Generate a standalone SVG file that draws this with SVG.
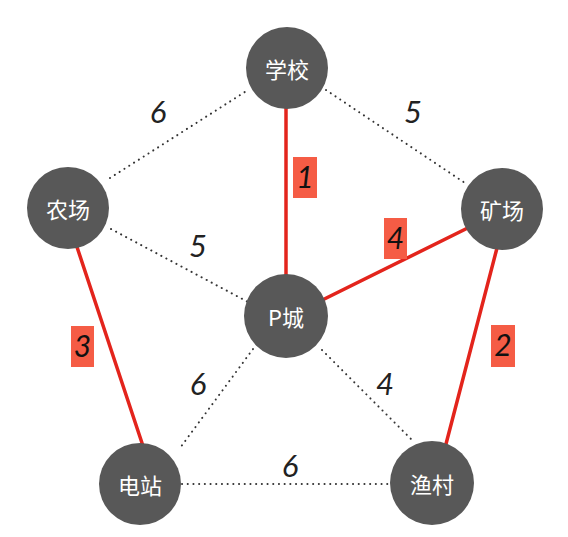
<svg xmlns="http://www.w3.org/2000/svg" width="568" height="537" viewBox="0 0 568 537">
<style>
.dot{stroke:#333;stroke-width:2;stroke-dasharray:0.1 5.6;stroke-linecap:round;fill:none}
.red{stroke:#e3241c;stroke-width:3.5;fill:none;stroke-linecap:round}
.node circle{fill:#585858}
.node text{fill:#fff;font-family:"Noto Sans CJK SC","Liberation Sans",sans-serif;font-size:22px;text-anchor:middle;dominant-baseline:central}
.w{fill:#222;font-family:"Lato","Liberation Sans",Arial,sans-serif;font-weight:400;font-size:31px;font-style:italic;text-anchor:middle}
.box{fill:#f55c45}
.bt{fill:#111;font-family:"Lato","Liberation Sans",Arial,sans-serif;font-weight:400;font-size:30px;font-style:italic;text-anchor:middle}
</style>
<rect width="568" height="537" fill="#fff"/>
<g id="connectors">
<line class="dot" x1="110" y1="178" x2="248" y2="90"/>
<line class="dot" x1="326" y1="90" x2="465" y2="183"/>
<line class="dot" x1="111" y1="229" x2="248" y2="302"/>
<line class="dot" x1="253" y1="349" x2="180" y2="448"/>
<line class="dot" x1="322" y1="350" x2="412" y2="440"/>
<line class="dot" x1="182" y1="484" x2="390" y2="484"/>
<line class="red" x1="286" y1="108" x2="286" y2="278"/>
<line class="red" x1="286" y1="318" x2="500" y2="212"/>
<line class="red" x1="77" y1="247" x2="143" y2="446"/>
<line class="red" x1="497" y1="248" x2="446" y2="444"/>
</g>
<g id="weights">
<text class="w" x="158" y="123">6</text>
<text class="w" x="413" y="123">5</text>
<text class="w" x="198" y="257">5</text>
<text class="w" x="198" y="395">6</text>
<text class="w" x="385" y="395">4</text>
<text class="w" x="290" y="477">6</text>
</g>
<g id="labels">
<rect class="box" x="293" y="157" width="24" height="41"/>
<text class="bt" x="305" y="188">1</text>
<rect class="box" x="384" y="218" width="23" height="41"/>
<text class="bt" x="395.5" y="249">4</text>
<rect class="box" x="71" y="326" width="23" height="41"/>
<text class="bt" x="82.5" y="357">3</text>
<rect class="box" x="491" y="325" width="24" height="42"/>
<text class="bt" x="503" y="356">2</text>
</g>
<g id="n-school" class="node"><circle cx="287" cy="68" r="41"/><text x="287" y="68">学校</text></g>
<g id="n-farm" class="node"><circle cx="68" cy="208" r="41"/><text x="68" y="208">农场</text></g>
<g id="n-mine" class="node"><circle cx="502" cy="209" r="41"/><text x="502" y="209">矿场</text></g>
<g id="n-pcity" class="node"><circle cx="286" cy="316" r="42"/><text x="286" y="316">P城</text></g>
<g id="n-power" class="node"><circle cx="140" cy="484" r="41"/><text x="140" y="484">电站</text></g>
<g id="n-fish" class="node"><circle cx="432" cy="483" r="42"/><text x="432" y="483">渔村</text></g>
</svg>
